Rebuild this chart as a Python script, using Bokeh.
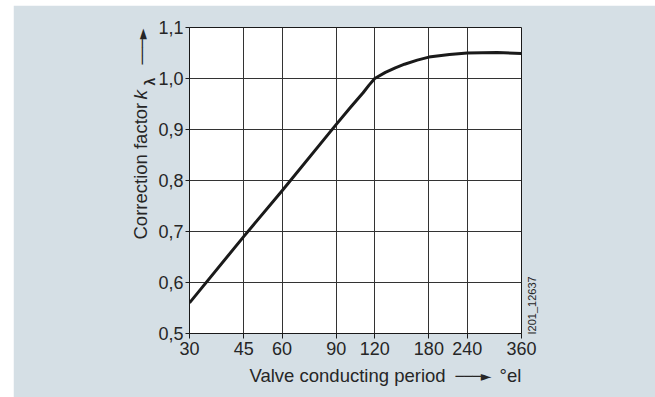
from bokeh.plotting import figure
from bokeh.models import Range1d, FixedTicker, Label, Spacer
from bokeh.layouts import row, column
from bokeh.embed import file_html
from bokeh.resources import INLINE

# ---- data ----
period_deg = [30, 45, 60, 90, 100, 110, 115, 120, 130, 140, 150, 165, 180, 210, 240, 300, 360]
k_lambda = [0.56, 0.69, 0.78, 0.91, 0.943, 0.972, 0.987, 1.0, 1.012, 1.021, 1.028, 1.036, 1.042, 1.047, 1.050, 1.051, 1.049]

x_ticks = [30, 45, 60, 90, 120, 180, 240, 360]
x_tick_labels = ["30", "45", "60", "90", "120", "180", "240", "360"]
y_ticks = [0.5, 0.6, 0.7, 0.8, 0.9, 1.0, 1.1]
y_tick_labels = ["0,5", "0,6", "0,7", "0,8", "0,9", "1,0", "1,1"]

x_label = "Valve conducting period"
x_unit = "°el"
y_label = "Correction factor"
y_symbol = "k"
y_subscript = "λ"
arrow_text = "───►"
figure_id = "I201_12637"

# ---- layout ----
BG = "#d5dfe5"
INK = "#262626"
FONT = "Liberation Sans"

OX, OY = 13, 5                      # figure origin on the page
W, H = 655 - OX, 397 - OY
ML, MR, MT, MB = 189 - OX, 655 - 521, 27 - OY, 397 - 333


def cx(px):
    return px - OX


def cy(py):
    return py - OY


p = figure(width=W, height=H, x_axis_type="log",
           x_range=Range1d(30, 360), y_range=Range1d(0.5, 1.1),
           output_backend="svg", toolbar_location=None,
           min_border_left=ML, min_border_right=MR,
           min_border_top=MT, min_border_bottom=MB)

p.border_fill_color = BG
p.background_fill_color = "white"
p.outline_line_color = "#1a1a1a"
p.outline_line_width = 1

p.xaxis.ticker = FixedTicker(ticks=x_ticks)
p.xaxis.major_label_overrides = dict(zip(x_ticks, x_tick_labels))
p.yaxis.ticker = FixedTicker(ticks=y_ticks)
p.yaxis.major_label_overrides = dict(zip(y_ticks, y_tick_labels))

for ax in (p.xaxis[0], p.yaxis[0]):
    ax.axis_line_color = "#1a1a1a"
    ax.axis_line_width = 1
    ax.major_tick_line_color = "#1a1a1a"
    ax.major_tick_in = 0
    ax.minor_tick_line_color = None
    ax.major_label_text_font = FONT
    ax.major_label_text_font_size = "18px"
    ax.major_label_text_color = INK
p.xaxis.major_tick_out = 5
p.xaxis.major_label_standoff = 3
p.yaxis.major_tick_out = 4
p.yaxis.major_label_standoff = 2

p.xgrid.ticker = FixedTicker(ticks=x_ticks)
p.ygrid.ticker = FixedTicker(ticks=y_ticks)
p.grid.grid_line_color = "#333333"
p.grid.grid_line_width = 1

p.line(period_deg, k_lambda, line_width=3, line_color="#1a1a1a", line_join="round")


def add_label(side, px, py, text, size, angle=0, style="normal", font=FONT):
    p.add_layout(Label(x=cx(px), y=cy(py), x_units="canvas", y_units="canvas",
                       text=text, text_font=font, text_font_style=style,
                       text_font_size=size, text_color=INK,
                       angle=angle, angle_units="deg",
                       text_align="left", text_baseline="middle"), side)


# x axis title with arrow and unit
add_label("below", 249, 375, x_label, "18.5px")
add_label("right", 455, 375, arrow_text, "14px", font="DejaVu Sans")
add_label("right", 499, 375, x_unit, "18.5px")

# y axis title (rotated) with symbol and arrow
add_label("left", 140, 239, y_label, "18.5px", angle=90)
add_label("left", 140, 99, y_symbol, "19px", angle=90, style="italic")
add_label("left", 149, 85, y_subscript, "14px", angle=90, style="bold")
add_label("left", 141, 64, arrow_text, "14px", angle=90, font="DejaVu Sans")

# figure id
add_label("right", 531, 334, figure_id, "11px", angle=90)

layout = column(Spacer(width=W, height=OY), row(Spacer(width=OX, height=H), p))

open("out.html", "w").write(file_html(layout, INLINE))
